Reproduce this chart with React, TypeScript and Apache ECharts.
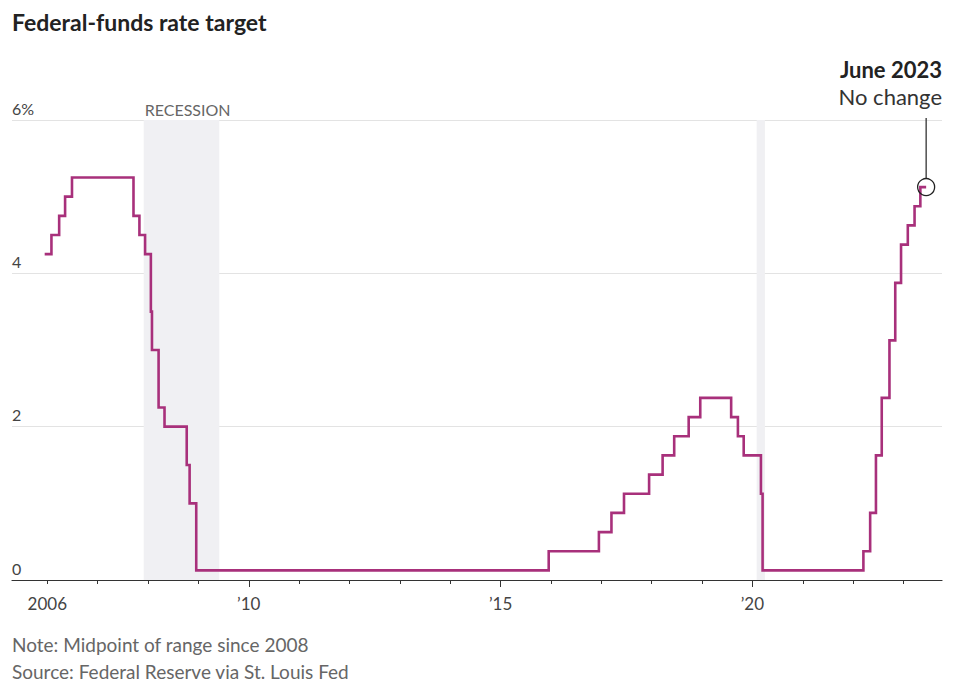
import React, { useEffect, useRef } from 'react';
import * as echarts from 'echarts';

// Federal-funds rate target (midpoint of range since 2008), effective dates of changes
const changeDates = [
  '2005-12-13', '2006-01-31', '2006-03-28', '2006-05-10', '2006-06-29',
  '2007-09-18', '2007-10-31', '2007-12-11',
  '2008-01-22', '2008-01-30', '2008-03-18', '2008-04-30',
  '2008-10-08', '2008-10-29', '2008-12-16',
  '2015-12-16', '2016-12-14', '2017-03-15', '2017-06-14', '2017-12-13',
  '2018-03-21', '2018-06-13', '2018-09-26', '2018-12-19',
  '2019-07-31', '2019-09-18', '2019-10-30',
  '2020-03-03', '2020-03-15',
  '2022-03-16', '2022-05-04', '2022-06-15', '2022-07-27', '2022-09-21',
  '2022-11-02', '2022-12-14', '2023-02-01', '2023-03-22', '2023-05-03',
  '2023-06-14',
];
const targetRates = [
  4.25, 4.5, 4.75, 5, 5.25,
  4.75, 4.5, 4.25,
  3.5, 3, 2.25, 2,
  1.5, 1, 0.125,
  0.375, 0.625, 0.875, 1.125, 1.375,
  1.625, 1.875, 2.125, 2.375,
  2.125, 1.875, 1.625,
  1.125, 0.125,
  0.375, 0.875, 1.625, 2.375, 3.125,
  3.875, 4.375, 4.625, 4.875, 5.125,
  5.125,
];

const recessionStarts = ['2007-12-01', '2020-02-01'];
const recessionEnds = ['2009-06-01', '2020-04-01'];

const tickYears = [2006, 2007, 2008, 2009, 2010, 2011, 2012, 2013, 2014, 2015, 2016, 2017, 2018, 2019, 2020, 2021, 2022, 2023];
const majorTickYears = [2010, 2015, 2020];
const labelYears = [2006, 2010, 2015, 2020];
const labelTexts = ['2006', '\u201910', '\u201915', '\u201920'];

const yTicks = [0, 2, 4, 6];

const axisMin = '2005-04-20';
const axisMax = '2023-10-07';

const FONT = 'Lato, "Noto Sans", sans-serif';

export default function App() {
  const ref = useRef<HTMLDivElement>(null);

  useEffect(() => {
    if (!ref.current) return;
    const chart = echarts.init(ref.current, null, { renderer: 'svg' });
    const ts = (d: string) => {
      const [y, m, day] = d.split('-').map(Number);
      return Date.UTC(y, m - 1, day);
    };
    const yearTs = (y: number) => Date.UTC(y, 0, 1);

    const lineData = changeDates.map((d, i) => [ts(d), targetRates[i]]);

    const labelMap: Record<number, string> = {};
    labelYears.forEach((y, i) => (labelMap[y] = labelTexts[i]));

    const xMin = ts(axisMin);
    const xMax = ts(axisMax);

    const option: any = {
      animation: false,
      textStyle: { fontFamily: FONT },
      grid: {
        left: 12,
        right: 11,
        top: 120,
        bottom: 117,
        containLabel: false,
        outerBoundsMode: 'none',
      },
      xAxis: [
        {
          type: 'value',
          min: xMin,
          max: xMax,
          position: 'bottom',
          axisLine: { show: true, onZero: false, lineStyle: { color: '#333', width: 1.2 } },
          axisTick: {
            show: true,
            length: 4,
            lineStyle: { color: '#333', width: 1 },
            customValues: tickYears.map(yearTs),
          },
          axisLabel: {
            show: true,
            customValues: labelYears.map(yearTs),
            formatter: (v: number) => labelMap[new Date(v).getUTCFullYear()] ?? '',
            color: '#444',
            fontSize: 17,
            fontFamily: FONT,
            margin: 15,
          },
          splitLine: { show: false },
        },
        {
          type: 'value',
          min: xMin,
          max: xMax,
          position: 'bottom',
          gridIndex: 0,
          axisLine: { show: false, onZero: false },
          axisTick: {
            show: true,
            length: 7,
            lineStyle: { color: '#333', width: 1 },
            customValues: majorTickYears.map(yearTs),
          },
          axisLabel: { show: false },
          splitLine: { show: false },
        },
      ],
      yAxis: {
        type: 'value',
        min: 0,
        max: 6,
        interval: 2,
        axisLine: { show: false },
        axisTick: { show: false },
        splitLine: { show: true, lineStyle: { color: '#e3e3e3', width: 1 } },
        axisLabel: {
          inside: true,
          align: 'left',
          verticalAlign: 'bottom',
          margin: 0,
          padding: [0, 0, 4, 0],
          color: '#444',
          fontSize: 16,
          fontFamily: FONT,
          formatter: (v: number) => (v === 6 ? '6%' : String(v)),
        },
      },
      series: [
        {
          name: 'Recession',
          type: 'line',
          data: [],
          z: 1,
          silent: true,
          markArea: {
            silent: true,
            itemStyle: { color: '#f0f0f3' },
            data: recessionStarts.map((s, i) => [
              {
                xAxis: ts(s),
                label: {
                  show: i === 0,
                  formatter: 'RECESSION',
                  position: [1, -3],
                  align: 'left',
                  verticalAlign: 'bottom',
                  color: '#666',
                  fontSize: 16,
                  fontFamily: FONT,
                },
              },
              { xAxis: ts(recessionEnds[i]) },
            ]),
          },
        },
        {
          name: 'Federal-funds rate target',
          type: 'line',
          step: 'end',
          data: lineData,
          showSymbol: false,
          z: 3,
          lineStyle: { color: '#a8307b', width: 2.6, join: 'miter' },
          itemStyle: { color: '#a8307b' },
        },
      ],
    };

    chart.setOption(option);

    const lastIdx = changeDates.length - 1;
    const p = chart.convertToPixel({ xAxisIndex: 0, yAxisIndex: 0 }, [
      ts(changeDates[lastIdx]),
      targetRates[lastIdx],
    ]) as number[];
    const r = 8.5;
    const leaderTop = (chart.convertToPixel({ yAxisIndex: 0 }, yTicks[yTicks.length - 1]) as number) - 2;

    chart.setOption({
      graphic: [
        {
          type: 'text',
          x: 12,
          y: 22,
          style: {
            text: 'Federal-funds rate target',
            fontSize: 23,
            fontWeight: 'bold',
            fontFamily: FONT,
            fill: '#222',
            verticalAlign: 'middle',
          },
        },
        {
          type: 'text',
          x: 942,
          y: 69,
          style: {
            text: 'June 2023',
            fontSize: 22,
            fontWeight: 'bold',
            fontFamily: FONT,
            fill: '#222',
            align: 'right',
            verticalAlign: 'middle',
          },
        },
        {
          type: 'text',
          x: 942,
          y: 96,
          style: {
            text: 'No change',
            fontSize: 22,
            fontFamily: FONT,
            fill: '#333',
            align: 'right',
            verticalAlign: 'middle',
          },
        },
        {
          type: 'line',
          shape: { x1: p[0], y1: leaderTop, x2: p[0], y2: p[1] - r },
          style: { stroke: '#222', lineWidth: 1.2 },
          z: 10,
        },
        {
          type: 'circle',
          shape: { cx: p[0], cy: p[1], r },
          style: { stroke: '#222', lineWidth: 1.3, fill: 'none' },
          z: 10,
        },
        {
          type: 'text',
          x: 12,
          y: 644,
          style: {
            text: 'Note: Midpoint of range since 2008',
            fontSize: 19,
            fontFamily: FONT,
            fill: '#666',
            verticalAlign: 'middle',
          },
        },
        {
          type: 'text',
          x: 12,
          y: 671,
          style: {
            text: 'Source: Federal Reserve via St. Louis Fed',
            fontSize: 19,
            fontFamily: FONT,
            fill: '#666',
            verticalAlign: 'middle',
          },
        },
      ],
    });

    return () => chart.dispose();
  }, []);

  return (
    <div
      ref={ref}
      style={{ position: 'fixed', left: 0, top: 0, width: 953, height: 697, background: '#fff' }}
    />
  );
}
